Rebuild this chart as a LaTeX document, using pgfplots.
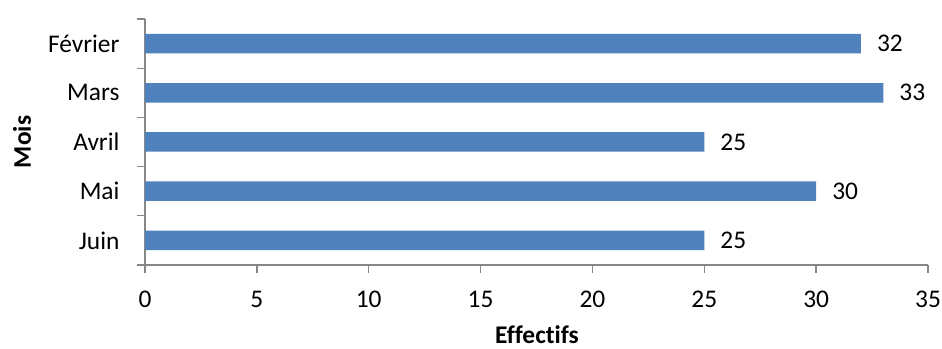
\documentclass[border=0pt]{standalone}
\usepackage{pgfplots}
\pgfplotsset{compat=1.18}
\usepackage{fontspec}
\setmainfont[Ligatures=NoCommon]{Carlito}
\definecolor{barblue}{HTML}{4F81BD}
\definecolor{axisgray}{HTML}{868686}
\begin{document}
\begin{tikzpicture}
\path[use as bounding box] (0,0) rectangle (942bp,349bp);
\begin{axis}[
  at={(145bp,84bp)}, anchor=south west,
  scale only axis, width=783bp, height=246bp,
  xbar, bar width=19.5bp,
  xmin=0, xmax=35, ymin=-0.5, ymax=4.5,
  axis lines*=left,
  axis line style={axisgray, line width=1.4bp},
  xtick={0,5,...,35},
  ytick={0,1,2,3,4},
  yticklabels={Juin,Mai,Avril,Mars,Février},
  minor ytick={-0.5,0.5,1.5,2.5,3.5,4.5},
  major y tick style={draw=none},
  tick style={axisgray, line width=1.4bp},
  tick align=outside,
  major tick length=8bp, minor tick length=8bp,
  /pgf/number format/assume math mode=true,
  ticklabel style={font=\fontsize{25.5}{30}\selectfont, text=black},
  yticklabel style={anchor=east, xshift=-14bp},
  xticklabel style={anchor=center, yshift=-26bp},
  nodes near coords,
  nodes near coords style={font=\fontsize{25.5}{30}\selectfont, anchor=west, inner sep=0pt, xshift=16bp, text=black},
  clip=false,
]
\addplot[fill=barblue, draw=none] coordinates {
  (25,0) (30,1) (25,2) (33,3) (32,4)
};
\end{axis}
\node[font=\fontsize{25.5}{30}\selectfont\bfseries, inner sep=1bp] at (537bp,14bp) {Effectifs};
\node[font=\fontsize{25.5}{30}\selectfont\bfseries, rotate=90] at (22bp,207bp) {Mois};
\end{tikzpicture}
\end{document}
